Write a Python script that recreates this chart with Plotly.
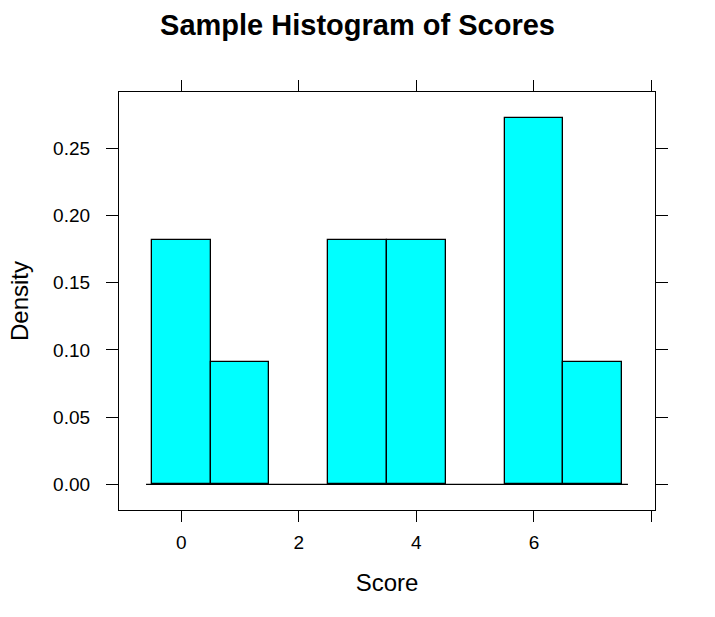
import plotly.graph_objects as go

scores = [0, 0, 1, 3, 3, 4, 4, 6, 6, 6, 7]
bin_start, bin_end, bin_size = -0.5, 7.5, 1.0
x_ticks = [0, 2, 4, 6, 8]
x_tick_text = ["0", "2", "4", "6", ""]
y_ticks = [0.0, 0.05, 0.10, 0.15, 0.20, 0.25]

font_family = "Liberation Sans, Arial, Helvetica, sans-serif"

fig = go.Figure()
fig.add_trace(go.Scatter(
    x=[bin_start - 0.1, bin_end + 0.1], y=[0, 0], mode="lines",
    line=dict(color="black", width=1.3), showlegend=False, hoverinfo="skip"))
fig.add_trace(go.Histogram(
    x=scores, histnorm="probability density",
    xbins=dict(start=bin_start, end=bin_end, size=bin_size),
    marker=dict(color="#00FFFF", line=dict(color="black", width=1.3)),
    showlegend=False))

fig.update_layout(
    width=715, height=617,
    margin=dict(l=119, r=60, t=92, b=107),
    paper_bgcolor="white", plot_bgcolor="white",
    bargap=0,
    title=dict(text="<b>Sample Histogram of Scores</b>", x=0.5, xanchor="center",
               y=1 - 25 / 617, yanchor="middle",
               font=dict(family=font_family, size=29, color="black")),
    font=dict(family=font_family, color="black"),
)
fig.update_xaxes(
    range=[-1.06, 8.06], tickvals=x_ticks, ticktext=x_tick_text,
    showgrid=False, zeroline=False,
    showline=True, linecolor="black", linewidth=1.3, mirror="allticks",
    ticks="outside", ticklen=11, tickwidth=1.3, tickcolor="black",
    tickfont=dict(size=19), ticklabelstandoff=4,
    title=dict(text="Score", font=dict(size=24), standoff=22))
fig.update_yaxes(
    range=[-0.0191, 0.2918], tickvals=y_ticks, tickformat=".2f",
    showgrid=False, zeroline=False,
    showline=True, linecolor="black", linewidth=1.3, mirror="allticks",
    ticks="outside", ticklen=12, tickwidth=1.3, tickcolor="black",
    tickfont=dict(size=19), ticklabelstandoff=12,
    title=dict(text="Density", font=dict(size=24), standoff=17))

fig.write_html("out.html")
